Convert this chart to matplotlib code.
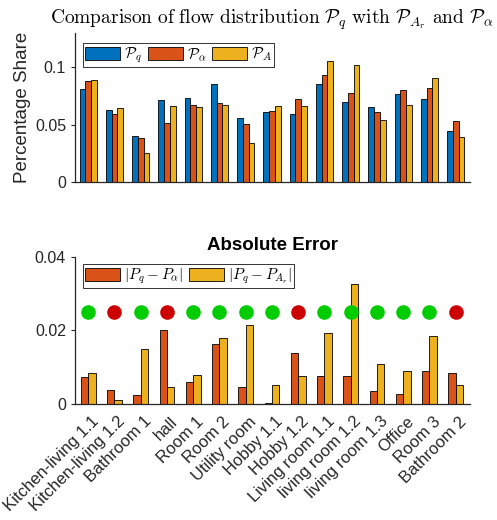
import matplotlib
matplotlib.use("Agg")
import matplotlib.pyplot as plt
import matplotlib.transforms as mtransforms
import numpy as np

rooms = ["Kitchen-living 1.1", "Kitchen-living 1.2", "Bathroom 1", "hall", "Room 1",
         "Room 2", "Utility room", "Hobby 1.1", "Hobby 1.2", "Living room 1.1",
         "living room 1.2", "living room 1.3", "Office", "Room 3", "Bathroom 2"]

# flow shares per room
p_q = [0.0806, 0.0630, 0.0405, 0.0718, 0.0733, 0.0853, 0.0554, 0.0613,
       0.0590, 0.0856, 0.0695, 0.0651, 0.0765, 0.0724, 0.0443]
p_alpha = [0.0877, 0.0590, 0.0380, 0.0513, 0.0672, 0.0689, 0.0504, 0.0616,
           0.0727, 0.0933, 0.0771, 0.0613, 0.0798, 0.0818, 0.0528]
p_a = [0.0891, 0.0645, 0.0252, 0.0666, 0.0654, 0.0672, 0.0337, 0.0666,
       0.0666, 0.1050, 0.1023, 0.0540, 0.0672, 0.0909, 0.0390]

# absolute errors
err_alpha = [0.0073, 0.0039, 0.0024, 0.0202, 0.0061, 0.0162, 0.0046, 0.0003,
             0.0138, 0.0076, 0.0076, 0.0035, 0.0027, 0.0091, 0.0084]
err_ar = [0.0084, 0.0012, 0.0150, 0.0047, 0.0080, 0.0179, 0.0214, 0.0051,
          0.0075, 0.0194, 0.0326, 0.0108, 0.0091, 0.0185, 0.0053]

# which model wins per room (1 = green, 0 = red)
alpha_better = [1, 0, 1, 0, 1, 1, 1, 1, 0, 1, 1, 1, 1, 1, 0]

BLUE = (0.0, 0.447, 0.741)
RED = (0.850, 0.325, 0.098)
YEL = (0.929, 0.694, 0.125)
AX_COL = (0.15, 0.15, 0.15)

plt.rcParams['font.family'] = ['Liberation Sans', 'DejaVu Sans']
plt.rcParams['mathtext.fontset'] = 'cm'

fig = plt.figure(figsize=(4.97, 5.2), dpi=100)
ax1 = fig.add_axes([0.151, 0.650, 0.795, 0.287])
ax2 = fig.add_axes([0.151, 0.223, 0.795, 0.283])

x = np.arange(1, len(rooms) + 1)


def style(ax):
    for s in ['top', 'right']:
        ax.spines[s].set_visible(False)
    for s in ['left', 'bottom']:
        ax.spines[s].set_color(AX_COL)
        ax.spines[s].set_linewidth(0.9)
    ax.tick_params(colors=AX_COL, labelsize=11.5, direction='out', length=3, width=0.8)
    ax.set_xlim(0.5, 15.55)


def box_legend(ax, ncol, anchor):
    leg = ax.legend(loc='upper left', ncol=ncol, fontsize=11, frameon=True, fancybox=False,
                    handlelength=2.3, handleheight=0.95, handletextpad=0.25,
                    columnspacing=0.35, borderpad=0.15, borderaxespad=0.0,
                    bbox_to_anchor=anchor)
    leg.get_frame().set_edgecolor('black')
    leg.get_frame().set_linewidth(0.7)
    return leg


# top: distributions
w = 0.22
kw = dict(edgecolor='black', linewidth=0.6)
ax1.bar(x - w, p_q, w, color=BLUE, label=r'$\mathcal{P}_q$', **kw)
ax1.bar(x, p_alpha, w, color=RED, label=r'$\mathcal{P}_\alpha$', **kw)
ax1.bar(x + w, p_a, w, color=YEL, label=r'$\mathcal{P}_A$', **kw)
style(ax1)
ax1.set_ylim(0, 0.13)
ax1.set_yticks([0, 0.05, 0.1])
ax1.set_yticklabels(['0', '0.05', '0.1'])
ax1.set_xticks([])
ax1.set_ylabel('Percentage Share', fontsize=13.5, color=AX_COL, labelpad=3)
fig.text(0.994, 0.954,
         r'$\mathrm{Comparison\ of\ flow\ distribution}\ \mathcal{P}_q\ \mathrm{with}\ '
         r'\mathcal{P}_{A_r}\ \mathrm{and}\ \mathcal{P}_\alpha$',
         fontsize=14, ha='right', va='baseline')
box_legend(ax1, 3, (0.02, 0.93))

# bottom: absolute errors
w2 = 0.28
ax2.bar(x - w2 / 2, err_alpha, w2, color=RED, label=r'$|P_q - P_\alpha|$', **kw)
ax2.bar(x + w2 / 2, err_ar, w2, color=YEL, label=r'$|P_q - P_{A_r}|$', **kw)
marker_level = 0.025
for xi, ok in zip(x, alpha_better):
    ax2.plot(xi, marker_level, 'o', markersize=10.5, markeredgewidth=0,
             color=(0.0, 0.8, 0.0) if ok else (0.8, 0.0, 0.0))
style(ax2)
ax2.set_ylim(0, 0.04)
ax2.set_yticks([0, 0.02, 0.04])
ax2.set_yticklabels(['0', '0.02', '0.04'])
ax2.set_xticks(x)
ax2.set_xticklabels(rooms, rotation=45, ha='right', rotation_mode='anchor', fontsize=12)
ax2.tick_params(axis='x', length=0, pad=7)
shift = mtransforms.ScaledTranslation(3 / 100, 0, fig.dpi_scale_trans)
for lab in ax2.get_xticklabels():
    lab.set_transform(lab.get_transform() + shift)
ax2.set_title('Absolute Error', fontsize=13.5, fontweight='bold', pad=5)
box_legend(ax2, 2, (0.02, 0.95))

fig.savefig('out.png', dpi=100)
